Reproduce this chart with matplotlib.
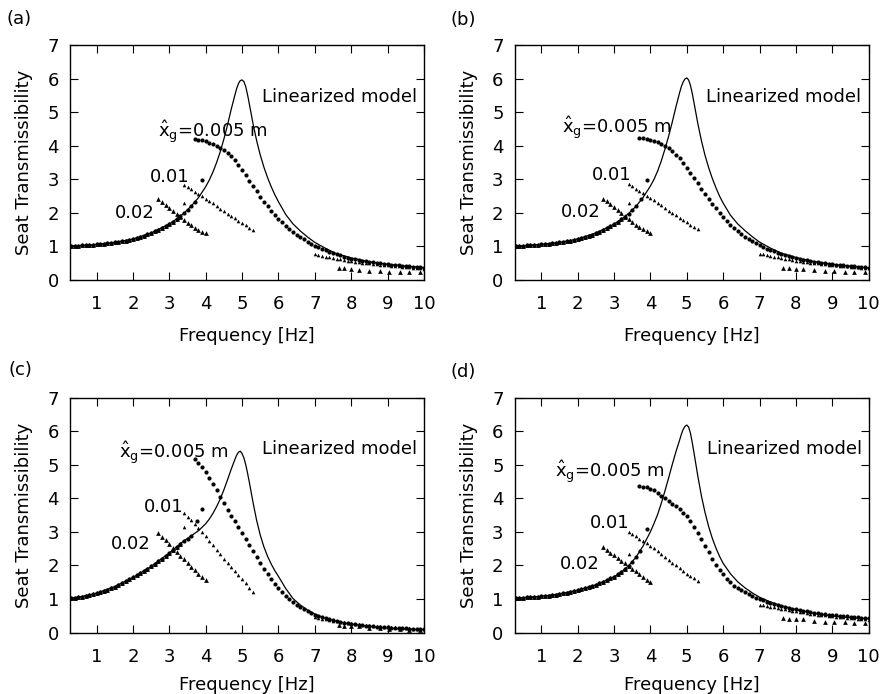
import numpy as np
import matplotlib
matplotlib.use('Agg')
import matplotlib.pyplot as plt

plt.rcParams['font.family'] = ['DejaVu Sans']
plt.rcParams['mathtext.fontset'] = 'custom'
plt.rcParams['mathtext.rm'] = 'DejaVu Sans'
plt.rcParams['mathtext.it'] = 'DejaVu Sans'
plt.rcParams['mathtext.default'] = 'regular'
plt.rcParams['axes.linewidth'] = 1.0

FS = 13

# frequency grids [Hz]
f_low = np.round(np.arange(3, 34) / 10, 1)        # 0.3 .. 3.3, common lower branch
f_up5 = np.round(np.arange(37, 101) / 10, 1)      # 3.7 .. 10.0
f_up10 = np.round(np.arange(34, 54) / 10, 1)      # 3.4 .. 5.3
f_up20 = np.round(np.arange(27, 41) / 10, 1)      # 2.7 .. 4.0
f_tail10 = np.round(np.arange(70, 101) / 10, 1)   # 7.0 .. 10.0
f_tail20 = [7.65, 7.8, 8.0, 8.2, 8.5, 8.8, 9.05, 9.35, 9.6, 9.9]
f_model = [0.27, 0.5, 1.0, 1.5, 2.0, 2.5, 3.0, 3.2, 3.4, 3.6,
           3.8, 4.0, 4.1, 4.2, 4.3, 4.4, 4.5, 4.6, 4.7, 4.8,
           4.85, 4.9, 4.95, 5.0, 5.05, 5.1, 5.15, 5.2, 5.3, 5.4,
           5.5, 5.6, 5.7, 5.8, 5.9, 6.0, 6.2, 6.4, 6.6, 6.8,
           7.0, 7.3, 7.6, 8.0, 8.5, 9.0, 9.5, 10.0]

# ---- (a) ----
model_a = [1.02, 1.02, 1.06, 1.12, 1.22, 1.40, 1.67, 1.82, 1.99, 2.20,
           2.45, 2.78, 2.98, 3.22, 3.50, 3.82, 4.20, 4.62, 5.08, 5.50,
           5.70, 5.85, 5.94, 5.96, 5.91, 5.76, 5.52, 5.24, 4.66, 4.15,
           3.72, 3.36, 3.05, 2.78, 2.54, 2.33, 1.95, 1.67, 1.46, 1.28,
           1.12, 0.94, 0.78, 0.66, 0.54, 0.47, 0.41, 0.37]
low_a = [1.02, 1.02, 1.02, 1.03, 1.03, 1.04, 1.05, 1.06, 1.07, 1.08,
         1.09, 1.10, 1.12, 1.13, 1.15, 1.17, 1.20, 1.22, 1.25, 1.28,
         1.32, 1.36, 1.40, 1.45, 1.50, 1.55, 1.61, 1.67, 1.74, 1.82,
         1.90]
up5_a = [4.19, 4.18, 4.16, 4.13, 4.09, 4.05, 4.00, 3.94, 3.87, 3.79,
         3.69, 3.57, 3.43, 3.28, 3.12, 2.96, 2.80, 2.64, 2.48, 2.33,
         2.19, 2.06, 1.94, 1.83, 1.72, 1.62, 1.52, 1.43, 1.35, 1.28,
         1.21, 1.14, 1.08, 1.02, 0.97, 0.92, 0.88, 0.84, 0.80, 0.76,
         0.73, 0.70, 0.67, 0.64, 0.62, 0.60, 0.58, 0.56, 0.54, 0.53,
         0.51, 0.50, 0.48, 0.47, 0.46, 0.45, 0.44, 0.43, 0.42, 0.41,
         0.40, 0.39, 0.38, 0.37]
up10_a = [2.83, 2.77, 2.70, 2.63, 2.56, 2.49, 2.42, 2.35, 2.28, 2.20,
          2.12, 2.05, 1.98, 1.91, 1.84, 1.77, 1.70, 1.63, 1.56, 1.49]
up20_a = [2.40, 2.32, 2.23, 2.15, 2.06, 1.97, 1.88, 1.79, 1.71, 1.63,
          1.56, 1.50, 1.44, 1.39]
tail10_a = [0.76, 0.74, 0.72, 0.70, 0.68, 0.66, 0.64, 0.62, 0.60, 0.58,
            0.57, 0.55, 0.54, 0.52, 0.51, 0.50, 0.48, 0.47, 0.46, 0.45,
            0.44, 0.43, 0.42, 0.41, 0.40, 0.39, 0.38, 0.37, 0.36, 0.35,
            0.34]
tail20_a = [0.35, 0.35, 0.33, 0.31, 0.28, 0.26, 0.25, 0.24, 0.23, 0.23]
jump5_f_a = [3.4, 3.5, 3.6, 3.7, 3.9]
jump5_a = [1.99, 2.09, 2.20, 2.33, 2.98]
jump10_f_a = [3.4]
jump10_a = [2.28]

# ---- (b) ----
model_b = [1.02, 1.02, 1.06, 1.12, 1.22, 1.40, 1.66, 1.81, 1.98, 2.19,
           2.46, 2.80, 3.00, 3.25, 3.55, 3.90, 4.28, 4.70, 5.15, 5.57,
           5.76, 5.90, 5.99, 6.02, 5.96, 5.80, 5.56, 5.27, 4.68, 4.16,
           3.72, 3.35, 3.03, 2.75, 2.50, 2.29, 1.93, 1.67, 1.47, 1.29,
           1.13, 0.95, 0.80, 0.67, 0.55, 0.47, 0.41, 0.36]
low_b = [1.02, 1.02, 1.02, 1.03, 1.03, 1.04, 1.05, 1.06, 1.07, 1.08,
         1.09, 1.10, 1.12, 1.13, 1.15, 1.17, 1.19, 1.22, 1.25, 1.28,
         1.31, 1.35, 1.40, 1.44, 1.49, 1.55, 1.60, 1.66, 1.73, 1.81,
         1.89]
up5_b = [4.24, 4.23, 4.21, 4.18, 4.14, 4.10, 4.05, 3.99, 3.92, 3.83,
         3.73, 3.62, 3.49, 3.35, 3.20, 3.04, 2.88, 2.72, 2.57, 2.42,
         2.27, 2.13, 2.00, 1.87, 1.75, 1.64, 1.54, 1.45, 1.37, 1.29,
         1.22, 1.15, 1.09, 1.03, 0.98, 0.93, 0.89, 0.85, 0.81, 0.77,
         0.74, 0.71, 0.68, 0.65, 0.63, 0.61, 0.59, 0.57, 0.55, 0.53,
         0.52, 0.50, 0.49, 0.47, 0.46, 0.45, 0.44, 0.43, 0.42, 0.41,
         0.40, 0.39, 0.38, 0.37]
up10_b = [2.85, 2.79, 2.72, 2.65, 2.58, 2.51, 2.44, 2.37, 2.30, 2.22,
          2.14, 2.07, 2.00, 1.93, 1.86, 1.79, 1.72, 1.65, 1.58, 1.51]
up20_b = [2.42, 2.34, 2.25, 2.17, 2.08, 1.99, 1.90, 1.81, 1.73, 1.65,
          1.58, 1.52, 1.46, 1.41]
tail10_b = [0.78, 0.76, 0.74, 0.72, 0.70, 0.68, 0.66, 0.64, 0.62, 0.60,
            0.58, 0.57, 0.55, 0.54, 0.52, 0.51, 0.50, 0.48, 0.47, 0.46,
            0.45, 0.44, 0.43, 0.42, 0.41, 0.40, 0.39, 0.38, 0.37, 0.36,
            0.35]
tail20_b = [0.36, 0.35, 0.34, 0.33, 0.30, 0.27, 0.26, 0.25, 0.24, 0.23]
jump5_f_b = [3.4, 3.5, 3.6, 3.75, 3.9]
jump5_b = [1.98, 2.08, 2.19, 2.41, 2.99]
jump10_f_b = [3.4]
jump10_b = [2.29]

# ---- (c) ----
model_c = [1.03, 1.05, 1.17, 1.37, 1.64, 1.97, 2.37, 2.55, 2.73, 2.88,
           3.03, 3.24, 3.38, 3.55, 3.75, 3.98, 4.25, 4.55, 4.86, 5.15,
           5.28, 5.37, 5.40, 5.33, 5.20, 5.00, 4.75, 4.47, 3.88, 3.34,
           2.90, 2.55, 2.27, 2.04, 1.84, 1.67, 1.31, 1.01, 0.82, 0.67,
           0.55, 0.42, 0.33, 0.25, 0.18, 0.13, 0.10, 0.08]
low_c = [1.03, 1.04, 1.05, 1.07, 1.09, 1.11, 1.14, 1.17, 1.20, 1.24,
         1.28, 1.32, 1.37, 1.42, 1.47, 1.52, 1.58, 1.64, 1.70, 1.76,
         1.83, 1.90, 1.97, 2.04, 2.12, 2.20, 2.28, 2.37, 2.46, 2.55,
         2.65]
up5_c = [5.17, 5.05, 4.92, 4.77, 4.60, 4.42, 4.23, 4.04, 3.85, 3.66,
         3.48, 3.31, 3.14, 2.96, 2.78, 2.60, 2.42, 2.24, 2.07, 1.90,
         1.74, 1.59, 1.45, 1.32, 1.20, 1.09, 0.99, 0.90, 0.82, 0.75,
         0.69, 0.63, 0.58, 0.53, 0.49, 0.45, 0.42, 0.39, 0.36, 0.33,
         0.31, 0.29, 0.27, 0.25, 0.24, 0.22, 0.21, 0.20, 0.19, 0.18,
         0.17, 0.16, 0.15, 0.15, 0.14, 0.13, 0.13, 0.12, 0.12, 0.11,
         0.11, 0.10, 0.10, 0.10]
up10_c = [3.55, 3.45, 3.34, 3.23, 3.11, 2.99, 2.86, 2.73, 2.60, 2.47,
          2.33, 2.20, 2.07, 1.94, 1.82, 1.70, 1.58, 1.46, 1.34, 1.22]
up20_c = [2.95, 2.85, 2.75, 2.63, 2.52, 2.40, 2.29, 2.18, 2.07, 1.96,
          1.85, 1.75, 1.65, 1.56]
tail10_c = [0.45, 0.43, 0.41, 0.39, 0.37, 0.35, 0.33, 0.31, 0.30, 0.28,
            0.27, 0.25, 0.24, 0.23, 0.22, 0.21, 0.20, 0.19, 0.18, 0.17,
            0.16, 0.15, 0.15, 0.14, 0.13, 0.12, 0.12, 0.11, 0.10, 0.10,
            0.09]
tail20_c = [0.22, 0.20, 0.19, 0.18, 0.14, 0.12, 0.10, 0.09, 0.08, 0.06]
jump5_f_c = [3.4, 3.5, 3.6, 3.75, 3.9]
jump5_c = [2.73, 2.80, 2.88, 3.31, 3.68]
jump10_f_c = [3.4]
jump10_c = [3.14]

# ---- (d) ----
model_d = [1.03, 1.04, 1.08, 1.15, 1.26, 1.42, 1.66, 1.80, 1.99, 2.24,
           2.58, 3.00, 3.25, 3.52, 3.85, 4.22, 4.60, 5.00, 5.38, 5.72,
           5.90, 6.05, 6.14, 6.18, 6.12, 5.94, 5.66, 5.34, 4.68, 4.08,
           3.58, 3.16, 2.81, 2.52, 2.27, 2.06, 1.75, 1.51, 1.33, 1.18,
           1.05, 0.91, 0.80, 0.68, 0.57, 0.49, 0.44, 0.41]
low_d = [1.03, 1.03, 1.04, 1.05, 1.05, 1.06, 1.07, 1.08, 1.09, 1.10,
         1.12, 1.13, 1.15, 1.17, 1.19, 1.21, 1.23, 1.26, 1.29, 1.32,
         1.35, 1.38, 1.42, 1.46, 1.51, 1.56, 1.61, 1.66, 1.73, 1.80,
         1.89]
up5_d = [4.35, 4.34, 4.32, 4.28, 4.23, 4.15, 4.08, 4.00, 3.92, 3.84,
         3.76, 3.67, 3.57, 3.47, 3.33, 3.15, 2.96, 2.78, 2.58, 2.39,
         2.20, 2.02, 1.87, 1.73, 1.60, 1.49, 1.40, 1.32, 1.26, 1.20,
         1.14, 1.09, 1.04, 1.00, 0.96, 0.92, 0.89, 0.86, 0.83, 0.80,
         0.77, 0.74, 0.71, 0.69, 0.67, 0.65, 0.63, 0.61, 0.59, 0.58,
         0.56, 0.55, 0.53, 0.52, 0.51, 0.50, 0.49, 0.48, 0.47, 0.46,
         0.45, 0.44, 0.43, 0.42]
up10_d = [2.98, 2.93, 2.87, 2.80, 2.73, 2.66, 2.59, 2.51, 2.43, 2.35,
          2.26, 2.17, 2.08, 2.00, 1.91, 1.83, 1.75, 1.68, 1.61, 1.54]
up20_d = [2.54, 2.46, 2.38, 2.30, 2.22, 2.14, 2.06, 1.98, 1.90, 1.82,
          1.74, 1.66, 1.57, 1.49]
tail10_d = [0.83, 0.81, 0.79, 0.77, 0.75, 0.73, 0.71, 0.69, 0.67, 0.65,
            0.63, 0.61, 0.60, 0.58, 0.56, 0.55, 0.53, 0.52, 0.51, 0.49,
            0.48, 0.47, 0.46, 0.45, 0.44, 0.43, 0.42, 0.41, 0.40, 0.39,
            0.38]
tail20_d = [0.43, 0.41, 0.40, 0.40, 0.33, 0.31, 0.30, 0.30, 0.29, 0.28]
jump5_f_d = [3.4, 3.5, 3.6, 3.72, 3.9]
jump5_d = [1.99, 2.11, 2.24, 2.44, 3.09]
jump10_f_d = [3.4]
jump10_d = [2.34]

panel_tags = ['(a)', '(b)', '(c)', '(d)']
amp_labels = [r'$\hat{x}_g$=0.005 m', '0.01', '0.02']
model_label = 'Linearized model'


def draw_panel(ax, model, low, up5, up10, up20, tail10, tail20,
               j5f, j5, j10f, j10, text_pos, xlabel_y):
    # amplitude 0.005 m: lower branch, jump points, upper branch
    ax.plot(np.concatenate([f_low, j5f, f_up5]), np.concatenate([low, j5, up5]),
            ls='none', marker='o', ms=3.0, mew=0, color='k')
    # amplitude 0.01 m
    ax.plot(np.concatenate([f_low, j10f, f_up10, f_tail10]),
            np.concatenate([low, j10, up10, tail10]),
            ls='none', marker='^', ms=2.6, mew=0, color='k')
    # amplitude 0.02 m
    ax.plot(np.concatenate([f_low, f_up20, f_tail20]),
            np.concatenate([low, up20, tail20]),
            ls='none', marker='^', ms=3.4, mew=0, color='k')
    ax.plot(f_model, model, color='k', lw=0.9)

    (mx, my), (x5, y5), (x10, y10), (x20, y20) = text_pos
    ax.text(mx, my, model_label, fontsize=FS, va='baseline')
    ax.text(x5, y5, amp_labels[0], fontsize=FS, va='baseline')
    ax.text(x10, y10, amp_labels[1], fontsize=FS, va='baseline')
    ax.text(x20, y20, amp_labels[2], fontsize=FS, va='baseline')

    ax.set_xlim(0.27, 10)
    ax.set_ylim(0, 7)
    ax.set_xticks(range(1, 11))
    ax.set_yticks(range(0, 8))
    ax.tick_params(direction='in', top=True, right=True, length=6,
                   width=0.8, labelsize=FS)
    ax.tick_params(axis='x', pad=11)
    ax.tick_params(axis='y', pad=8)
    ax.set_xlabel('Frequency [Hz]', fontsize=FS)
    ax.set_ylabel('Seat Transmissibility', fontsize=FS)
    ax.xaxis.set_label_coords(0.5, xlabel_y)
    ax.yaxis.set_label_coords(-0.105, 0.5)


fig = plt.figure(figsize=(8.84, 6.94), dpi=100)
W, H = 884, 694
boxes = [(70, 280), (514.7, 280), (70, 632.5), (514.7, 632.5)]
xlabel_ys = [-0.2, -0.2, -0.186, -0.186]
tag_xy = [(6, 19), (451, 20), (8, 370), (451, 372)]
label_pos = [
    [(5.54, 5.31), (2.70, 4.27), (2.47, 2.93), (1.50, 1.84)],
    [(5.54, 5.30), (1.57, 4.38), (2.39, 2.99), (1.54, 1.87)],
    [(5.54, 5.33), (1.61, 5.20), (2.30, 3.59), (1.39, 2.50)],
    [(5.55, 5.33), (1.39, 4.63), (2.33, 3.12), (1.50, 1.89)],
]
series = [
    (model_a, low_a, up5_a, up10_a, up20_a, tail10_a, tail20_a,
     jump5_f_a, jump5_a, jump10_f_a, jump10_a),
    (model_b, low_b, up5_b, up10_b, up20_b, tail10_b, tail20_b,
     jump5_f_b, jump5_b, jump10_f_b, jump10_b),
    (model_c, low_c, up5_c, up10_c, up20_c, tail10_c, tail20_c,
     jump5_f_c, jump5_c, jump10_f_c, jump10_c),
    (model_d, low_d, up5_d, up10_d, up20_d, tail10_d, tail20_d,
     jump5_f_d, jump5_d, jump10_f_d, jump10_d),
]

for (left, bottom), xly, (tx, ty), tag, data, pos in zip(
        boxes, xlabel_ys, tag_xy, panel_tags, series, label_pos):
    ax = fig.add_axes([left / W, 1 - bottom / H, 354 / W, 235 / H])
    draw_panel(ax, *data, pos, xly)
    fig.text(tx / W, 1 - ty / H, tag, fontsize=FS, va='center', ha='left')

fig.savefig('out.png', dpi=100)
